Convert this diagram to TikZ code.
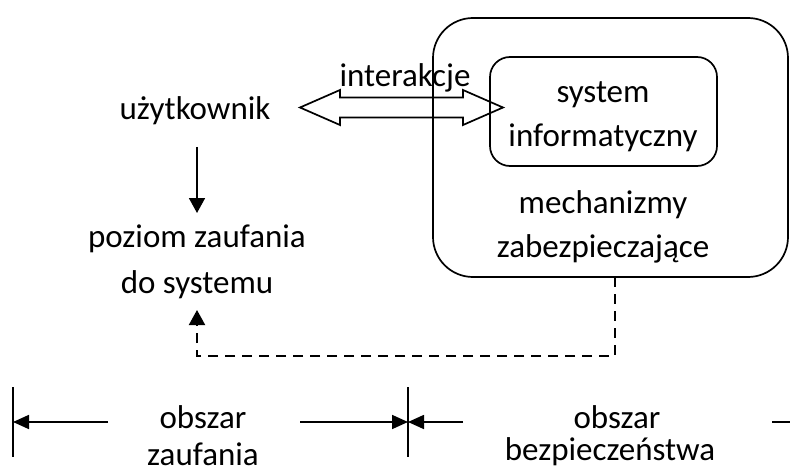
\documentclass[tikz,border=0pt]{standalone}
\usepackage{fontspec}
\setmainfont{Carlito}
\usetikzlibrary{arrows.meta}
\begin{document}
\begin{tikzpicture}[x=1pt,y=-1pt, line width=1.7pt,
  txt/.style={font=\fontsize{33}{40}\selectfont, inner sep=0pt, anchor=base},
  tri/.style={-{Triangle[length=15pt,width=16pt]}},
  trib/.style={-{Triangle[length=16pt,width=14pt]}},
  dsh/.style={dash pattern=on 10pt off 7pt, line width=2pt}]
\useasboundingbox (0,0) rectangle (790,468);
% boxes
\node (mech) [draw, rounded corners=40pt, inner sep=0pt, minimum width=355pt, minimum height=259pt] at (610.5,147.5) {};
\node (sys) [draw, rounded corners=20pt, inner sep=0pt, minimum width=227pt, minimum height=109pt] at (603.5,111.5) {};
% texts
\node (inter) [txt] at (405,87) {interakcje};
\node (sys1) [txt] at (603,103) {system};
\node (sys2) [txt] at (603,147) {informatyczny};
\node (mech1) [txt] at (603,213) {mechanizmy};
\node (mech2) [txt] at (603,257) {zabezpieczające};
\node (user) [txt] at (195,120) {użytkownik};
\node (trust1) [txt] at (197,247) {poziom zaufania};
\node (trust2) [txt] at (197,293) {do systemu};
\node (ob1) [txt] at (203,428) {obszar};
\node (ob1b) [txt] at (203,465) {zaufania};
\node (ob2) [txt] at (617,428) {obszar};
\node (ob2b) [txt] at (610,460) {bezpieczeństwa};
% double arrow
\coordinate (dl) at (300,107.5);
\coordinate (dr) at (503,107.5);
\draw[line join=miter] (dl) -- (340,90) -- (340,97.5) -- (463,97.5) -- (463,90) -- (dr)
  -- (463,125) -- (463,117.5) -- (340,117.5) -- (340,125) -- cycle;
% user -> trust
\coordinate (ua) at (197,147);
\coordinate (ub) at (197,213);
\draw[tri] (ua) -- (ub);
% dashed feedback
\coordinate (fa) at (615,277);
\coordinate (fb) at (197,310);
\draw[dsh, tri] (fa) -- (615,356) -- (197,356) -- (fb);
% bottom ranges
\coordinate (b0t) at (13,387); \coordinate (b0b) at (13,457);
\coordinate (b1t) at (408,387); \coordinate (b1b) at (408,457);
\draw (b0t) -- (b0b);
\draw (b1t) -- (b1b);
\coordinate (a1) at (108,422); \coordinate (a2) at (300,422);
\coordinate (a3) at (463,422); \coordinate (a4) at (772,422);
\coordinate (a5) at (790,422);
\draw[trib] (a1) -- (b0t |- a1);
\draw[trib] (a2) -- (b1t |- a2);
\draw[trib] (a3) -- (b1t |- a3);
\draw (a4) -- (a5);
\end{tikzpicture}
\end{document}
